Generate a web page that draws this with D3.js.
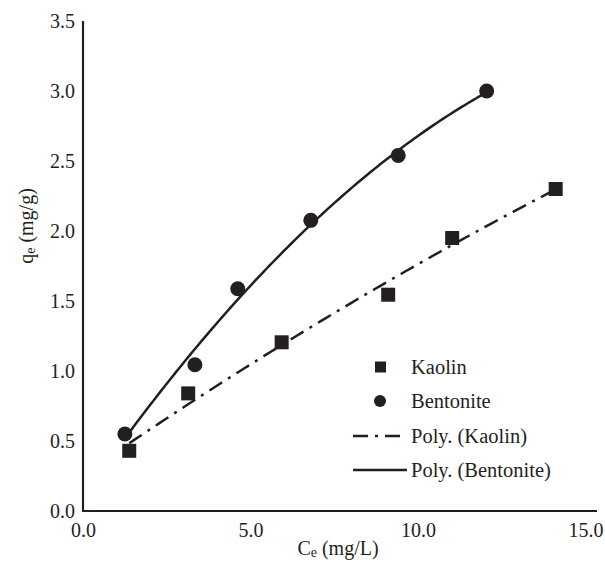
<!DOCTYPE html>
<html><head><meta charset="utf-8">
<script src="https://cdn.jsdelivr.net/npm/d3@7"></script>
<style>body{margin:0;background:#fff}svg{display:block}text{font-family:"Liberation Serif","Times New Roman",serif;fill:#231f20}</style>
</head><body>
<svg id="c" width="605" height="564"></svg>
<script>
const kaolinX = [1.38, 3.14, 5.93, 9.11, 11.02, 14.11];
const kaolinY = [0.43, 0.84, 1.205, 1.545, 1.95, 2.30];
const bentX = [1.25, 3.34, 4.62, 6.80, 9.41, 12.05];
const bentY = [0.55, 1.045, 1.587, 2.076, 2.54, 3.0];
const xTicks = [0, 5, 10, 15];
const yTicks = [0, 0.5, 1, 1.5, 2, 2.5, 3, 3.5];
const legendItems = ["Kaolin", "Bentonite", "Poly. (Kaolin)", "Poly. (Bentonite)"];

const svg = d3.select("#c");
const x = d3.scaleLinear().domain([0, 15]).range([83, 585.5]);
const y = d3.scaleLinear().domain([0, 3.5]).range([511, 21]);
const ink = "#231f20";

// quadratic least squares fit (Excel "Poly." trendline, order 2)
function polyFit(xs, ys) {
  let S = [0,0,0,0,0], T = [0,0,0];
  xs.forEach((xv, i) => {
    for (let k = 0; k < 5; k++) S[k] += Math.pow(xv, k);
    for (let k = 0; k < 3; k++) T[k] += ys[i] * Math.pow(xv, k);
  });
  const A = [[S[0],S[1],S[2],T[0]],[S[1],S[2],S[3],T[1]],[S[2],S[3],S[4],T[2]]];
  for (let i = 0; i < 3; i++) {
    for (let j = i + 1; j < 3; j++) {
      const f = A[j][i] / A[i][i];
      for (let k = i; k < 4; k++) A[j][k] -= f * A[i][k];
    }
  }
  const c = [0,0,0];
  for (let i = 2; i >= 0; i--) {
    let s = A[i][3];
    for (let k = i + 1; k < 3; k++) s -= A[i][k] * c[k];
    c[i] = s / A[i][i];
  }
  return xv => c[0] + c[1]*xv + c[2]*xv*xv;
}
function trend(xs, ys) {
  const f = polyFit(xs, ys);
  const lo = d3.min(xs), hi = d3.max(xs);
  return d3.range(0, 101).map(i => { const xv = lo + (hi - lo) * i / 100; return [xv, f(xv)]; });
}
const line = d3.line().x(d => x(d[0])).y(d => y(d[1]));

// axes
const yAxis = d3.axisLeft(y).tickValues(yTicks).tickFormat(d3.format(".1f")).tickSize(0).tickPadding(8);
const xAxis = d3.axisBottom(x).tickValues(xTicks).tickFormat(d3.format(".1f")).tickSize(0).tickPadding(12);
const gy = svg.append("g").attr("transform", `translate(${x(0)},0)`).call(yAxis);
const gx = svg.append("g").attr("transform", `translate(0,${y(0)})`).call(xAxis);
gx.select(".domain").remove();
gy.select(".domain").remove();
[gx, gy].forEach(g => {
  g.selectAll("text").attr("font-size", 20).attr("fill", ink).style("font-family", '"Liberation Serif",serif');
});
svg.append("path").attr("d", `M${x(0)},${y(3.5)}V${y(0)}H597`)
  .attr("fill", "none").attr("stroke", ink).attr("stroke-width", 2.2);

// trendlines
svg.append("path").datum(trend(kaolinX, kaolinY)).attr("d", line)
  .attr("fill", "none").attr("stroke", ink).attr("stroke-width", 2.5).attr("stroke-dasharray", "15,7,3,7");
svg.append("path").datum(trend(bentX, bentY)).attr("d", line)
  .attr("fill", "none").attr("stroke", ink).attr("stroke-width", 2.5);

// markers
const sq = 14;
svg.append("g").selectAll("rect").data(kaolinX.map((v, i) => [v, kaolinY[i]])).join("rect")
  .attr("x", d => x(d[0]) - sq/2).attr("y", d => y(d[1]) - sq/2).attr("width", sq).attr("height", sq).attr("fill", ink);
svg.append("g").selectAll("circle").data(bentX.map((v, i) => [v, bentY[i]])).join("circle")
  .attr("cx", d => x(d[0])).attr("cy", d => y(d[1])).attr("r", 7.5).attr("fill", ink);

// axis titles
const xt = svg.append("text").attr("x", 338).attr("y", 555).attr("text-anchor", "middle").attr("font-size", 20);
xt.append("tspan").text("C");
xt.append("tspan").text("e").attr("font-size", 14).attr("dy", 2);
xt.append("tspan").text(" (mg/L)").attr("dy", -2);
const yt = svg.append("text").attr("transform", "translate(33,226) rotate(-90)").attr("text-anchor", "middle").attr("font-size", 20);
yt.append("tspan").text("q");
yt.append("tspan").text("e").attr("font-size", 14).attr("dy", 2);
yt.append("tspan").text(" (mg/g)").attr("dy", -2);

// legend
const lg = svg.append("g");
const rowY = [367, 401, 436, 470];
lg.append("rect").attr("x", 375).attr("y", rowY[0] - 5.5).attr("width", 11).attr("height", 11).attr("fill", ink);
lg.append("circle").attr("cx", 380).attr("cy", rowY[1]).attr("r", 6).attr("fill", ink);
lg.append("line").attr("x1", 353).attr("x2", 407).attr("y1", rowY[2]).attr("y2", rowY[2])
  .attr("stroke", ink).attr("stroke-width", 2.5).attr("stroke-dasharray", "15,7,3,7");
lg.append("line").attr("x1", 353).attr("x2", 407).attr("y1", rowY[3]).attr("y2", rowY[3])
  .attr("stroke", ink).attr("stroke-width", 2.5);
lg.selectAll("text").data(legendItems).join("text")
  .attr("x", 411).attr("y", (d, i) => rowY[i]).attr("dy", "0.35em").attr("font-size", 20.5).text(d => d);
</script>
</body></html>
